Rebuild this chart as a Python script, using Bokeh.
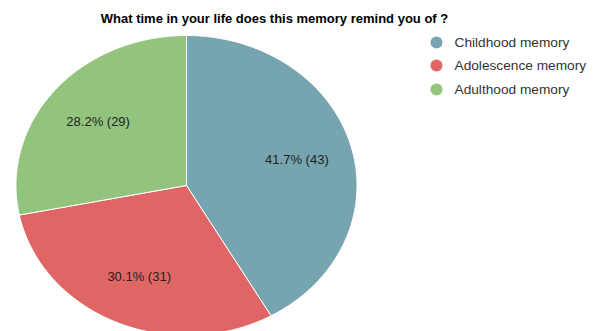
import numpy as np
from bokeh.plotting import figure
from bokeh.models import ColumnDataSource, Label
from bokeh.core.properties import value
from bokeh.embed import file_html
from bokeh.resources import INLINE

# ---- data ----
categories = ["Childhood memory", "Adolescence memory", "Adulthood memory"]
counts = [43, 31, 29]
percents = [41.7, 30.1, 28.2]
colors = ["#76A5AF", "#E06666", "#93C47D"]
title_text = "What time in your life does this memory remind you of ?"

# ---- layout (pixels) ----
W, H = 600, 331
CX, CY = 186, 185          # pie centre in pixels
RX, RY = 170.5, 150        # pie radii in pixels

p = figure(width=W, height=H, output_backend="svg", toolbar_location=None,
           x_range=(-CX / RX, (W - CX) / RX), y_range=((CY - H) / RY, CY / RY),
           min_border=0)
p.axis.visible = False
p.grid.visible = False
p.outline_line_color = None
p.background_fill_color = "white"
p.border_fill_color = "white"

total = float(sum(counts))
xs, ys = [], []
label_x, label_y = [], []
start = 0.0
for c in counts:
    end = start + c / total * 2 * np.pi
    t = np.linspace(start, end, 200)
    xs.append([0.0] + list(np.sin(t)) + [0.0])
    ys.append([0.0] + list(np.cos(t)) + [0.0])
    mid = (start + end) / 2
    label_x.append(0.67 * np.sin(mid))
    label_y.append(0.67 * np.cos(mid))
    start = end

src = ColumnDataSource(dict(xs=xs, ys=ys, color=colors))
p.patches("xs", "ys", fill_color="color", line_color="white", line_width=1, source=src)

labels = [f"{pc:.1f}% ({c})" for pc, c in zip(percents, counts)]
p.text(x=label_x, y=label_y, text=labels, text_align="center", text_baseline="middle",
       text_font=value("Liberation Sans"), text_font_size="13px", text_color="#222222")

# legend
leg_px_y = [42, 65, 89]
leg_x = [(436 - CX) / RX] * 3
leg_y = [(CY - py) / RY for py in leg_px_y]
p.scatter(x=leg_x, y=leg_y, size=12, marker="circle", fill_color=colors, line_color=None)
p.text(x=[(454 - CX) / RX] * 3, y=leg_y, text=categories, text_align="left",
       text_baseline="middle", text_font=value("Liberation Sans"),
       text_font_size="13.7px", text_color="#333333")

p.add_layout(Label(x=274, y=H - 18, x_units="screen", y_units="screen", text=title_text,
                   text_align="center", text_baseline="middle",
                   text_font="Liberation Sans", text_font_style="bold",
                   text_font_size="13px", text_color="#000000"))

open("out.html", "w").write(file_html(p, INLINE))
